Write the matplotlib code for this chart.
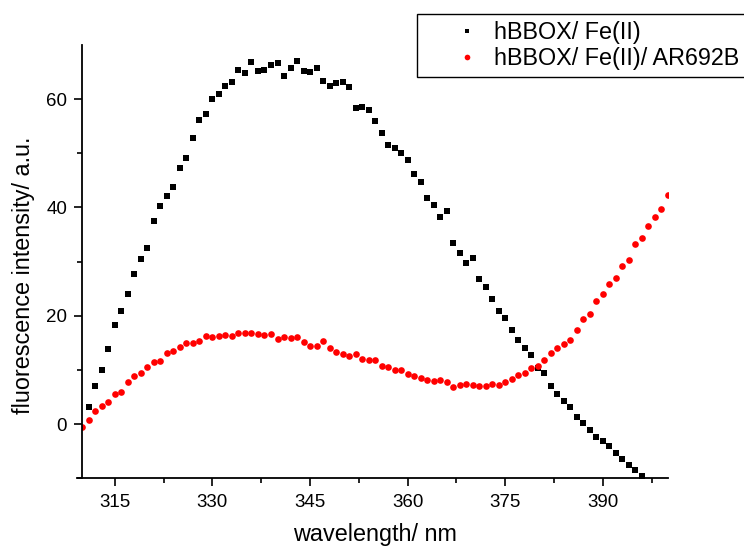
import numpy as np
import matplotlib
matplotlib.use("Agg")
import matplotlib.pyplot as plt

plt.rcParams['font.family'] = ['Liberation Sans', 'DejaVu Sans']

# ------------------------------------------------------------
# data
# ------------------------------------------------------------
wl_fe = list(range(311, 397))
int_fe = [3.1, 7.1, 10.0, 13.8, 18.3, 20.9, 24.0, 27.8, 30.5, 32.5,
          37.5, 40.3, 42.1, 43.8, 47.3, 49.2, 52.9, 56.1, 57.2, 60.0,
          60.9, 62.5, 63.2, 65.4, 64.9, 66.9, 65.2, 65.4, 66.3, 66.6,
          64.2, 65.7, 67.0, 65.2, 65.0, 65.8, 63.3, 62.4, 62.9, 63.1,
          62.3, 58.4, 58.6, 58.0, 56.0, 53.8, 51.5, 50.9, 50.0, 48.7,
          46.2, 44.7, 41.8, 40.4, 38.3, 39.3, 33.5, 31.6, 29.8, 30.6,
          26.8, 25.4, 23.1, 20.8, 19.6, 17.3, 15.5, 14.1, 12.7, 10.3,
          9.4, 7.0, 5.5, 4.2, 3.1, 1.3, 0.2, -1.1, -2.3, -3.1,
          -4.1, -5.4, -6.4, -7.5, -8.5, -9.6]

wl_ar = list(range(310, 401))
int_ar = [-0.5, 0.7, 2.5, 3.4, 4.1, 5.5, 6.0, 7.8, 8.9, 9.5,
          10.6, 11.5, 11.6, 13.2, 13.5, 14.3, 14.9, 14.9, 15.3, 16.2,
          16.1, 16.2, 16.5, 16.2, 16.9, 16.9, 16.9, 16.7, 16.5, 16.7,
          15.8, 16.1, 15.9, 16.0, 15.1, 14.5, 14.4, 15.4, 14.1, 13.3,
          12.9, 12.6, 13.0, 12.1, 11.9, 11.8, 10.7, 10.6, 10.0, 10.0,
          9.2, 8.9, 8.6, 8.2, 7.9, 8.2, 7.7, 6.9, 7.2, 7.4,
          7.3, 7.0, 7.1, 7.4, 7.2, 7.7, 8.4, 9.0, 9.4, 10.3,
          10.8, 11.8, 13.2, 14.0, 14.8, 15.6, 17.4, 19.5, 20.4, 22.7,
          24.0, 25.9, 27.0, 29.2, 30.3, 33.2, 34.4, 36.5, 38.2, 39.7,
          42.3]

label_fe = "hBBOX/ Fe(II)"
label_ar = "hBBOX/ Fe(II)/ AR692B"

# ------------------------------------------------------------
# plot
# ------------------------------------------------------------
fig = plt.figure(figsize=(7.44, 5.5), dpi=100)
ax = fig.add_axes([0.1106, 0.1303, 0.7872, 0.7879])

ax.plot(wl_fe, int_fe, linestyle="none", marker="s", ms=4.0,
        mew=0, color="black", label=label_fe)
ax.plot(wl_ar, int_ar, linestyle="none", marker="o", ms=4.8,
        mew=0, color="red", label=label_ar)

ax.set_xlim(310, 400)
ax.set_ylim(-10, 70)
ax.set_xticks([315, 330, 345, 360, 375, 390])
ax.set_xticks(np.arange(322.5, 400, 15), minor=True)
ax.set_yticks([0, 20, 40, 60])
ax.set_yticks([-10, 10, 30, 50], minor=True)

for s in ["top", "right"]:
    ax.spines[s].set_visible(False)
for s in ["left", "bottom"]:
    ax.spines[s].set_linewidth(1.3)
ax.spines["bottom"].set_bounds(309.25, 400)

ax.tick_params(which="major", direction="out", length=6, width=1.2,
               labelsize=13.5, pad=5)
ax.tick_params(which="minor", direction="out", length=3.5, width=1.2)

ax.set_xlabel("wavelength/ nm", fontsize=16.8, labelpad=9)
ax.set_ylabel("fluorescence intensity/ a.u.", fontsize=16.8)
ax.yaxis.set_label_coords(-0.081, 0.468)

leg = fig.legend(loc="upper left", bbox_to_anchor=(417 / 744, 1 - 14 / 550),
                 fontsize=16.8, frameon=True, fancybox=False, framealpha=1,
                 edgecolor="black", borderpad=0.3, labelspacing=0.12,
                 handlelength=3.72, handletextpad=-0.73, markerscale=0.85,
                 borderaxespad=0)
leg.get_frame().set_linewidth(1.0)

fig.savefig("out.png", dpi=100)
